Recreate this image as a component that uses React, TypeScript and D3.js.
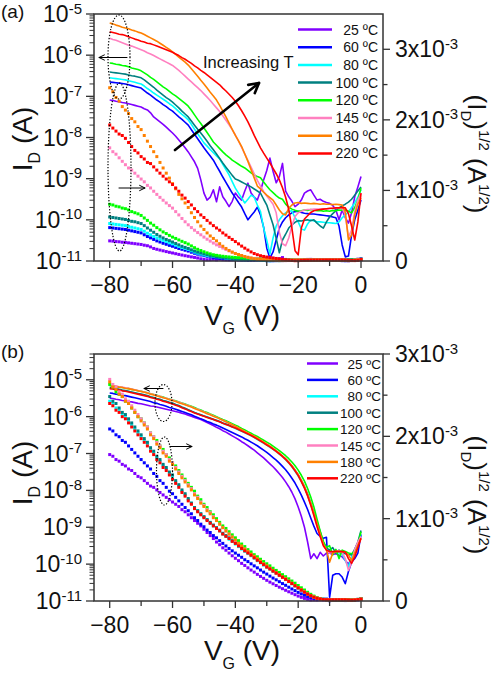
import React from 'react';
import * as d3 from 'd3';

// Gate voltage grid (V), one point per volt
const vg = d3.range(-80, 1, 1);

const tempLabels = ['25 ºC', '60 ºC', '80 ºC', '100 ºC', '120 ºC', '145 ºC', '180 ºC', '220 ºC'];
const colors = ['#8000ff', '#0000ff', '#00ffff', '#008080', '#00ff00', '#ff80c0', '#ff8000', '#ff0000'];

// ---- Panel (a): log10(I_D / A), V_G = -80 ... 0 ----
const a25 = [
  -7.09, -7.10, -7.12, -7.13, -7.15, -7.16, -7.18, -7.20, -7.22, -7.24,
  -7.26, -7.30, -7.33, -7.40, -7.50, -7.56, -7.62, -7.68, -7.75, -7.82,
  -7.89, -7.97, -8.06, -8.15, -8.25, -8.35, -8.47, -8.59, -8.75, -9.03,
  -9.35, -9.52, -9.45, -9.27, -9.56, -9.20, -9.44, -9.55, -9.68, -9.55,
  -9.35, -9.45, -9.52, -9.30, -9.11, -9.35, -9.45, -9.52, -9.30, -9.03,
  -8.80, -8.50, -8.82, -9.10, -8.95, -8.63, -9.30, -9.44, -9.55, -9.68,
  -9.62, -9.52, -9.35, -9.30, -9.27, -9.40, -9.52, -9.50, -9.55, -9.58,
  -9.60, -9.65, -9.76, -10.0, -9.76, -9.95, -10.08, -9.83, -9.44, -9.20,
  -8.95];
const a60 = [
  -6.65, -6.66, -6.67, -6.68, -6.69, -6.70, -6.72, -6.74, -6.76, -6.78,
  -6.80, -6.86, -6.92, -6.97, -7.03, -7.09, -7.14, -7.20, -7.25, -7.31,
  -7.36, -7.43, -7.50, -7.56, -7.63, -7.70, -7.81, -7.92, -8.03, -8.14,
  -8.25, -8.35, -8.45, -8.55, -8.69, -8.82, -8.96, -9.09, -9.22, -9.35,
  -9.46, -9.58, -9.69, -9.85, -10.00, -9.90, -9.81, -9.69, -9.88, -10.18,
  -10.69, -10.93, -10.78, -10.49, -10.20, -10.05, -9.95, -9.88, -9.83, -9.80,
  -9.79, -9.82, -9.84, -9.85, -9.86, -9.86, -9.87, -9.88, -9.89, -9.90,
  -9.91, -9.93, -9.95, -10.15, -10.61, -10.90, -10.88, -10.37, -10.00, -9.76,
  -9.52];
const a80 = [
  -6.55, -6.56, -6.57, -6.58, -6.59, -6.60, -6.62, -6.64, -6.66, -6.68,
  -6.70, -6.75, -6.81, -6.86, -6.92, -6.97, -7.02, -7.07, -7.12, -7.18,
  -7.23, -7.30, -7.37, -7.44, -7.50, -7.57, -7.68, -7.80, -7.91, -8.02,
  -8.13, -8.21, -8.29, -8.37, -8.45, -8.52, -8.65, -8.78, -8.91, -9.07,
  -9.23, -9.35, -9.47, -9.59, -9.50, -9.40, -9.45, -9.64, -9.80, -10.20,
  -10.50, -10.83, -10.44, -10.15, -10.00, -9.90, -9.83, -9.80, -9.78, -9.95,
  -10.05, -10.22, -10.25, -10.10, -10.00, -10.03, -10.05, -10.05, -10.06, -10.07,
  -10.07, -10.08, -10.09, -10.05, -9.95, -9.88, -9.81, -9.70, -9.59, -9.45,
  -9.27];
const a100 = [
  -6.41, -6.42, -6.43, -6.44, -6.45, -6.46, -6.48, -6.50, -6.51, -6.53,
  -6.55, -6.60, -6.66, -6.72, -6.78, -6.85, -6.91, -6.97, -7.03, -7.08,
  -7.14, -7.21, -7.28, -7.36, -7.43, -7.50, -7.60, -7.70, -7.80, -7.89,
  -7.99, -8.09, -8.20, -8.30, -8.40, -8.51, -8.62, -8.72, -8.82, -8.92,
  -9.01, -9.04, -9.08, -9.12, -9.16, -9.20, -9.25, -9.30, -9.35, -9.50,
  -9.64, -9.88, -10.12, -10.45, -10.80, -10.49, -10.35, -10.20, -10.12, -10.06,
  -10.02, -10.03, -10.01, -10.00, -10.02, -10.00, -10.08, -10.15, -10.20, -10.05,
  -9.93, -9.85, -9.78, -9.71, -9.66, -9.62, -9.57, -9.50, -9.40, -9.30,
  -9.20];
const a120 = [
  -6.19, -6.20, -6.22, -6.23, -6.25, -6.26, -6.28, -6.31, -6.33, -6.35,
  -6.38, -6.43, -6.48, -6.54, -6.59, -6.65, -6.71, -6.77, -6.82, -6.88,
  -6.94, -6.99, -7.05, -7.11, -7.17, -7.24, -7.34, -7.45, -7.56, -7.66,
  -7.77, -7.88, -7.99, -8.11, -8.19, -8.27, -8.35, -8.42, -8.48, -8.55,
  -8.60, -8.65, -8.70, -8.74, -8.80, -8.86, -8.91, -8.95, -8.98, -9.08,
  -9.18, -9.27, -9.34, -9.41, -9.47, -9.50, -9.62, -9.69, -9.74, -9.77,
  -9.79, -9.78, -9.76, -9.77, -9.75, -9.76, -9.78, -9.77, -9.79, -9.78,
  -9.79, -9.77, -9.78, -9.76, -9.77, -9.76, -9.79, -9.83, -9.70, -9.52,
  -9.23];
const a145 = [
  -5.59, -5.62, -5.64, -5.67, -5.70, -5.73, -5.76, -5.78, -5.81, -5.84,
  -5.87, -5.90, -5.94, -5.97, -6.01, -6.05, -6.09, -6.13, -6.17, -6.21,
  -6.25, -6.31, -6.37, -6.44, -6.51, -6.58, -6.65, -6.72, -6.79, -6.86,
  -6.94, -7.02, -7.10, -7.19, -7.28, -7.37, -7.47, -7.58, -7.69, -7.81,
  -7.94, -8.08, -8.24, -8.40, -8.56, -8.72, -8.88, -9.04, -9.18, -9.31,
  -9.42, -9.52, -9.62, -9.83, -10.30, -10.58, -10.63, -10.44, -10.15, -9.92,
  -9.83, -9.79, -9.76, -9.75, -9.75, -9.74, -9.74, -9.74, -9.73, -9.74,
  -9.73, -9.72, -9.72, -9.71, -9.71, -9.88, -10.42, -10.25, -9.80, -9.52,
  -9.35];
const a180 = [
  -5.22, -5.24, -5.27, -5.29, -5.32, -5.34, -5.36, -5.39, -5.41, -5.44,
  -5.46, -5.50, -5.54, -5.58, -5.62, -5.66, -5.71, -5.76, -5.81, -5.86,
  -5.92, -5.98, -6.05, -6.11, -6.17, -6.24, -6.33, -6.42, -6.51, -6.61,
  -6.70, -6.80, -6.90, -6.99, -7.09, -7.22, -7.36, -7.50, -7.65, -7.80,
  -7.95, -8.08, -8.22, -8.40, -8.58, -8.78, -8.98, -9.18, -9.25, -9.33,
  -9.40, -9.46, -9.52, -9.64, -9.76, -9.85, -9.88, -9.72, -9.64, -9.59,
  -9.58, -9.60, -9.59, -9.60, -9.61, -9.60, -9.61, -9.62, -9.61, -9.62,
  -9.62, -9.63, -9.62, -9.63, -9.64, -9.81, -10.49, -10.37, -9.88, -9.62,
  -9.47];
const a220 = [
  -5.43, -5.45, -5.47, -5.49, -5.50, -5.52, -5.55, -5.58, -5.61, -5.63,
  -5.66, -5.68, -5.71, -5.72, -5.75, -5.78, -5.81, -5.84, -5.87, -5.90,
  -5.93, -5.97, -6.01, -6.06, -6.10, -6.15, -6.20, -6.26, -6.31, -6.37,
  -6.42, -6.48, -6.54, -6.60, -6.66, -6.72, -6.80, -6.87, -6.95, -7.03,
  -7.12, -7.23, -7.35, -7.48, -7.62, -7.78, -7.95, -8.10, -8.25, -8.38,
  -8.50, -8.62, -8.75, -8.88, -9.03, -9.22, -9.45, -9.75, -10.20, -10.75,
  -10.85, -10.20, -9.98, -9.90, -9.82, -9.78, -9.76, -9.75, -9.74, -9.73,
  -9.72, -9.72, -9.71, -9.71, -9.70, -9.71, -9.85, -10.15, -10.49, -10.05,
  -9.35];

// ---- Panel (b): log10(I_D / A) ----
const b25 = [
  -5.5, -5.51, -5.53, -5.54, -5.56, -5.57, -5.59, -5.6, -5.62, -5.64,
  -5.65, -5.67, -5.69, -5.71, -5.72, -5.74, -5.76, -5.78, -5.8, -5.82,
  -5.84, -5.86, -5.88, -5.91, -5.93, -5.96, -5.99, -6.02, -6.05, -6.08,
  -6.12, -6.16, -6.2, -6.24, -6.29, -6.33, -6.38, -6.42, -6.47, -6.52,
  -6.57, -6.62, -6.68, -6.73, -6.79, -6.85, -6.91, -6.98, -7.05, -7.12,
  -7.2, -7.28, -7.36, -7.45, -7.55, -7.65, -7.77, -7.9, -8.05, -8.23,
  -8.45, -8.7, -9.0, -9.4, -9.85, -9.72, -9.85, -9.68, -9.78, -9.7,
  -9.7, -9.74, -9.72, -9.76, -9.8, -9.9, -10.0, -9.85, -9.7, -9.5,
  -9.2];
const b60 = [
  -5.36, -5.37, -5.39, -5.4, -5.42, -5.43, -5.45, -5.47, -5.49, -5.51,
  -5.53, -5.55, -5.57, -5.59, -5.62, -5.64, -5.67, -5.69, -5.72, -5.75,
  -5.77, -5.8, -5.83, -5.86, -5.89, -5.92, -5.95, -5.99, -6.02, -6.06,
  -6.09, -6.13, -6.16, -6.2, -6.23, -6.27, -6.31, -6.35, -6.39, -6.43,
  -6.47, -6.51, -6.55, -6.6, -6.64, -6.69, -6.74, -6.79, -6.85, -6.91,
  -6.97, -7.04, -7.11, -7.18, -7.26, -7.35, -7.44, -7.55, -7.67, -7.8,
  -7.96, -8.13, -8.32, -8.52, -8.75, -8.97, -9.17, -9.25, -9.3, -9.27,
  -10.9, -10.3, -10.26, -10.26, -10.35, -10.53, -10.2, -9.95, -9.85, -9.7,
  -9.2];
const b80 = [
  -5.23, -5.24, -5.26, -5.27, -5.29, -5.3, -5.32, -5.34, -5.36, -5.38,
  -5.4, -5.42, -5.44, -5.47, -5.49, -5.52, -5.54, -5.57, -5.59, -5.62,
  -5.65, -5.68, -5.71, -5.75, -5.78, -5.82, -5.85, -5.89, -5.92, -5.95,
  -5.98, -6.01, -6.05, -6.08, -6.11, -6.14, -6.18, -6.21, -6.25, -6.28,
  -6.32, -6.36, -6.4, -6.44, -6.48, -6.52, -6.57, -6.62, -6.67, -6.72,
  -6.77, -6.83, -6.89, -6.95, -7.02, -7.09, -7.17, -7.26, -7.36, -7.48,
  -7.61, -7.76, -7.93, -8.13, -8.37, -8.63, -8.9, -9.17, -9.43, -9.58,
  -9.64, -9.68, -9.66, -9.7, -9.72, -9.9, -10.08, -9.8, -9.6, -9.42,
  -9.2];
const b100 = [
  -5.21, -5.23, -5.24, -5.26, -5.28, -5.29, -5.31, -5.33, -5.35, -5.37,
  -5.39, -5.41, -5.43, -5.46, -5.48, -5.51, -5.53, -5.56, -5.58, -5.61,
  -5.63, -5.67, -5.7, -5.74, -5.77, -5.81, -5.85, -5.89, -5.92, -5.95,
  -5.98, -6.01, -6.04, -6.07, -6.1, -6.13, -6.17, -6.2, -6.23, -6.27,
  -6.3, -6.34, -6.38, -6.42, -6.46, -6.5, -6.55, -6.6, -6.65, -6.7,
  -6.76, -6.81, -6.87, -6.93, -7.0, -7.07, -7.15, -7.24, -7.34, -7.45,
  -7.58, -7.73, -7.9, -8.1, -8.34, -8.6, -8.85, -9.12, -9.4, -9.56,
  -9.62, -9.55, -9.7, -9.62, -9.68, -9.72, -9.74, -9.75, -9.6, -9.4,
  -9.09];
const b120 = [
  -5.16, -5.17, -5.19, -5.2, -5.21, -5.23, -5.24, -5.26, -5.28, -5.3,
  -5.31, -5.33, -5.35, -5.38, -5.4, -5.42, -5.45, -5.47, -5.5, -5.52,
  -5.55, -5.57, -5.6, -5.63, -5.66, -5.69, -5.72, -5.75, -5.79, -5.82,
  -5.86, -5.89, -5.93, -5.96, -6.0, -6.04, -6.08, -6.11, -6.15, -6.19,
  -6.23, -6.27, -6.32, -6.36, -6.41, -6.45, -6.5, -6.54, -6.59, -6.64,
  -6.69, -6.74, -6.8, -6.86, -6.92, -6.99, -7.06, -7.14, -7.23, -7.33,
  -7.45, -7.59, -7.75, -7.95, -8.18, -8.45, -8.78, -9.1, -9.38, -9.55,
  -9.5, -9.75, -9.6, -9.85, -9.62, -9.66, -9.7, -9.72, -9.65, -9.45,
  -9.12];
const b145 = [
  -5.14, -5.16, -5.17, -5.19, -5.2, -5.22, -5.23, -5.25, -5.27, -5.29,
  -5.31, -5.33, -5.35, -5.38, -5.4, -5.43, -5.45, -5.48, -5.5, -5.53,
  -5.55, -5.58, -5.61, -5.64, -5.67, -5.7, -5.73, -5.77, -5.8, -5.84,
  -5.87, -5.91, -5.94, -5.98, -6.02, -6.06, -6.1, -6.14, -6.18, -6.22,
  -6.27, -6.31, -6.36, -6.4, -6.45, -6.5, -6.54, -6.59, -6.64, -6.7,
  -6.75, -6.81, -6.87, -6.94, -7.0, -7.08, -7.15, -7.24, -7.34, -7.46,
  -7.58, -7.74, -7.92, -8.14, -8.38, -8.66, -8.95, -9.22, -9.48, -9.62,
  -9.7, -9.68, -9.66, -9.64, -9.68, -9.85, -10.17, -9.95, -9.6, -9.4,
  -9.25];
const b180 = [
  -5.15, -5.17, -5.18, -5.2, -5.21, -5.23, -5.24, -5.26, -5.28, -5.3,
  -5.32, -5.34, -5.36, -5.39, -5.41, -5.44, -5.46, -5.49, -5.51, -5.54,
  -5.56, -5.59, -5.62, -5.65, -5.68, -5.71, -5.74, -5.78, -5.81, -5.85,
  -5.88, -5.92, -5.95, -5.99, -6.02, -6.06, -6.1, -6.14, -6.18, -6.22,
  -6.26, -6.31, -6.35, -6.4, -6.44, -6.49, -6.53, -6.58, -6.63, -6.69,
  -6.74, -6.8, -6.86, -6.93, -6.99, -7.07, -7.14, -7.23, -7.33, -7.45,
  -7.57, -7.73, -7.9, -8.12, -8.35, -8.62, -8.9, -9.18, -9.45, -9.62,
  -9.95, -9.7, -9.66, -9.65, -9.66, -9.68, -9.75, -9.9, -9.7, -9.5,
  -9.3];
const b220 = [
  -5.24, -5.25, -5.27, -5.28, -5.3, -5.31, -5.33, -5.35, -5.37, -5.39,
  -5.41, -5.43, -5.45, -5.48, -5.5, -5.53, -5.55, -5.58, -5.6, -5.63,
  -5.66, -5.69, -5.72, -5.76, -5.79, -5.83, -5.86, -5.9, -5.93, -5.96,
  -5.99, -6.02, -6.05, -6.08, -6.11, -6.14, -6.18, -6.21, -6.24, -6.28,
  -6.31, -6.35, -6.39, -6.43, -6.47, -6.51, -6.56, -6.61, -6.66, -6.71,
  -6.77, -6.82, -6.88, -6.94, -7.01, -7.08, -7.16, -7.25, -7.35, -7.47,
  -7.6, -7.76, -7.94, -8.15, -8.4, -8.68, -8.98, -9.25, -9.5, -9.62,
  -9.66, -9.66, -9.65, -9.66, -9.66, -9.67, -9.85, -9.98, -9.8, -9.55,
  -9.3];

const logIdA = [a25, a60, a80, a100, a120, a145, a180, a220];
const logIdB = [b25, b60, b80, b100, b120, b145, b180, b220];

// ticks
const xMajor = [-80, -60, -40, -20, 0];
const xMinor = [-70, -50, -30, -10];
const logDecades = [-11, -10, -9, -8, -7, -6, -5];
const sqrtMajor = [0, 1e-3, 2e-3, 3e-3];
const sqrtMajorMant = ['0', '1x10', '2x10', '3x10'];
const sqrtMinor = [0.5e-3, 1.5e-3, 2.5e-3];

const FONT = '"Liberation Sans", Arial, sans-serif';
const AX = '#333';

function Arrow({ x1, y1, x2, y2, w = 1, h = 6, a = 0.45 }: any) {
  const ang = Math.atan2(y2 - y1, x2 - x1);
  const p1 = [x2 - h * Math.cos(ang - a), y2 - h * Math.sin(ang - a)];
  const p2 = [x2 - h * Math.cos(ang + a), y2 - h * Math.sin(ang + a)];
  return (
    <g stroke="#000" strokeWidth={w} fill="none" strokeLinecap="round" strokeLinejoin="round">
      <line x1={x1} y1={y1} x2={x2} y2={y2} />
      <polyline points={`${p1[0]},${p1[1]} ${x2},${y2} ${p2[0]},${p2[1]}`} />
    </g>
  );
}

function Ell({ cx, cy, rx, ry }: any) {
  return <ellipse cx={cx} cy={cy} rx={rx} ry={ry} fill="none" stroke="#000" strokeWidth={1.2} strokeDasharray="1.3 1.7" />;
}

function Panel(p: any) {
  const L = 94, R = 383;
  const x = d3.scaleLinear().domain([-85, 7]).range([L, R]);
  const yL = d3.scaleLog().domain([1e-11, Math.pow(10, p.logTop)]).range([p.bottom, p.top]);
  const yR = d3.scaleLinear().domain([0, p.sqrtMax]).range([p.bottom, p.top]);
  const line = d3.line<number>().x((_d, i) => x(vg[i])).y((d) => yL(Math.pow(10, d)));
  const clip = 'clip-' + p.tag;
  const minorLog: number[] = [];
  for (let e = -11; e <= -5; e++) {
    for (let k = 2; k <= 9; k++) {
      const v = k * Math.pow(10, e);
      if (v <= Math.pow(10, p.logTop) * 1.0001) minorLog.push(v);
    }
  }
  const xt = (v: number) => (v < 0 ? '\u2212' + -v : '0');
  return (
    <g fontFamily={FONT}>
      <defs>
        <clipPath id={clip}>
          <rect x={L} y={p.top - 2} width={R - L} height={p.bottom - p.top + 4} />
        </clipPath>
      </defs>
      <g clipPath={`url(#${clip})`}>
        {p.data.map((s: number[], i: number) => (
          <path key={'l' + i} d={line(s) as string} fill="none" stroke={colors[i]} strokeWidth={1.6} strokeLinejoin="round" />
        ))}
        {p.data.map((s: number[], i: number) => (
          <g key={'m' + i} fill={colors[i]}>
            {s.map((d, j) => (
              <rect key={j} x={x(vg[j]) - 1.5} y={yR(Math.sqrt(Math.pow(10, d))) - 1.5} width={3} height={3} />
            ))}
          </g>
        ))}
      </g>
      {/* frame */}
      <rect x={L} y={p.top} width={R - L} height={p.bottom - p.top} fill="none" stroke={AX} strokeWidth={1.5} />
      {/* x ticks */}
      {xMajor.map((v) => (
        <g key={'xM' + v}>
          <line x1={x(v)} x2={x(v)} y1={p.bottom} y2={p.bottom + 7} stroke={AX} strokeWidth={1.3} />
          <text x={x(v)} y={p.bottom + 32} textAnchor="middle" fontSize={23} fill="#111">{xt(v)}</text>
        </g>
      ))}
      {xMinor.map((v) => (
        <line key={'xm' + v} x1={x(v)} x2={x(v)} y1={p.bottom} y2={p.bottom + 5} stroke={AX} strokeWidth={1.3} />
      ))}
      {/* left log ticks */}
      {logDecades.map((e) => (
        <g key={'ld' + e}>
          <line x1={L - 8} x2={L} y1={yL(Math.pow(10, e))} y2={yL(Math.pow(10, e))} stroke={AX} strokeWidth={1.3} />
          <text x={82} y={yL(Math.pow(10, e)) + 8} textAnchor="end" fontSize={23} fill="#111">
            10<tspan fontSize={15} dy={-8.5}>{String(e)}</tspan>
          </text>
        </g>
      ))}
      {minorLog.map((v, i) => (
        <line key={'lm' + i} x1={L - 4.5} x2={L} y1={yL(v)} y2={yL(v)} stroke={AX} strokeWidth={1} />
      ))}
      {/* right sqrt ticks */}
      {sqrtMajor.map((v, i) => (
        <g key={'rM' + i}>
          <line x1={R} x2={R + 7} y1={yR(v)} y2={yR(v)} stroke={AX} strokeWidth={1.3} />
          <text x={395} y={yR(v) + 8} fontSize={23} fill="#111">
            {sqrtMajorMant[i]}
            {v > 0 ? <tspan fontSize={15} dy={-8.5}>-3</tspan> : null}
          </text>
        </g>
      ))}
      {sqrtMinor.map((v, i) => (
        <line key={'rm' + i} x1={R} x2={R + 4.5} y1={yR(v)} y2={yR(v)} stroke={AX} strokeWidth={1.3} />
      ))}
      {/* axis titles */}
      <text transform={`translate(32,${p.leftTitleY}) rotate(-90)`} textAnchor="middle" fontSize={28} fill="#111">
        I<tspan fontSize={16} dy={8}>D</tspan><tspan dy={-8}>{' (A)'}</tspan>
      </text>
      <text transform={`translate(468,${p.rightTitleY}) rotate(90)`} textAnchor="middle" fontSize={26} fill="#111">
        (I<tspan fontSize={15} dy={7}>D</tspan><tspan dy={-7}>)</tspan><tspan fontSize={15} dy={-11}>1/2</tspan>
        <tspan dy={11}>{' (A'}</tspan><tspan fontSize={15} dy={-11}>1/2</tspan><tspan dy={11}>)</tspan>
      </text>
      <text x={242} y={p.xTitleY} textAnchor="middle" fontSize={28} fill="#111">
        V<tspan fontSize={16} dy={9}>G</tspan><tspan dy={-9}>{' (V)'}</tspan>
      </text>
      <text x={1} y={p.tagY} fontSize={19} fill="#111">{`(${p.tag})`}</text>
      {/* legend */}
      {tempLabels.map((t, i) => {
        const yy = p.legTop + i * p.legDy;
        return (
          <g key={'lg' + i}>
            <line x1={p.legX1} x2={p.legX2} y1={yy} y2={yy} stroke={colors[i]} strokeWidth={2.5} />
            <text x={p.legTextX} y={yy + 5} textAnchor="end" fontSize={p.legFont} fill="#111">{t}</text>
          </g>
        );
      })}
      {p.children}
    </g>
  );
}

export default function App() {
  return (
    <svg width={500} height={674} style={{ position: 'absolute', left: 0, top: 0, background: '#fff' }}>
      <rect x={0} y={0} width={500} height={674} fill="#fff" />
      <Panel tag="a" top={14} bottom={261} logTop={-5} sqrtMax={3.5e-3} data={logIdA}
        leftTitleY={139} rightTitleY={154} xTitleY={325} tagY={18}
        legTop={29.5} legDy={17.7} legX1={298} legX2={332} legTextX={378} legFont={14}>
        <Ell cx={119} cy={57} rx={11} ry={42} />
        <Ell cx={119.5} cy={167} rx={11.5} ry={84} />
        <Arrow x1={127} y1={57.5} x2={99} y2={57.5} w={1} h={6} />
        <Arrow x1={119} y1={188} x2={145} y2={188} w={1} h={6} />
        <Arrow x1={175} y1={150} x2={259} y2={83} w={2.6} h={11} a={0.5} />
        <text x={203} y={68} fontSize={16.5} fontFamily={FONT} fill="#111">Increasing T</text>
      </Panel>
      <Panel tag="b" top={354} bottom={601} logTop={Math.log10(5e-5)} sqrtMax={3e-3} data={logIdB}
        leftTitleY={473} rightTitleY={495} xTitleY={660} tagY={358}
        legTop={363.5} legDy={16.4} legX1={307} legX2={338} legTextX={381} legFont={13.5}>
        <Ell cx={163.5} cy={403} rx={8.5} ry={18.5} />
        <Ell cx={164.5} cy={471} rx={8} ry={34} />
        <Arrow x1={163} y1={388.5} x2={144} y2={388.5} w={1} h={6} />
        <Arrow x1={170} y1={446.5} x2={192} y2={446.5} w={1} h={6} />
      </Panel>
    </svg>
  );
}
